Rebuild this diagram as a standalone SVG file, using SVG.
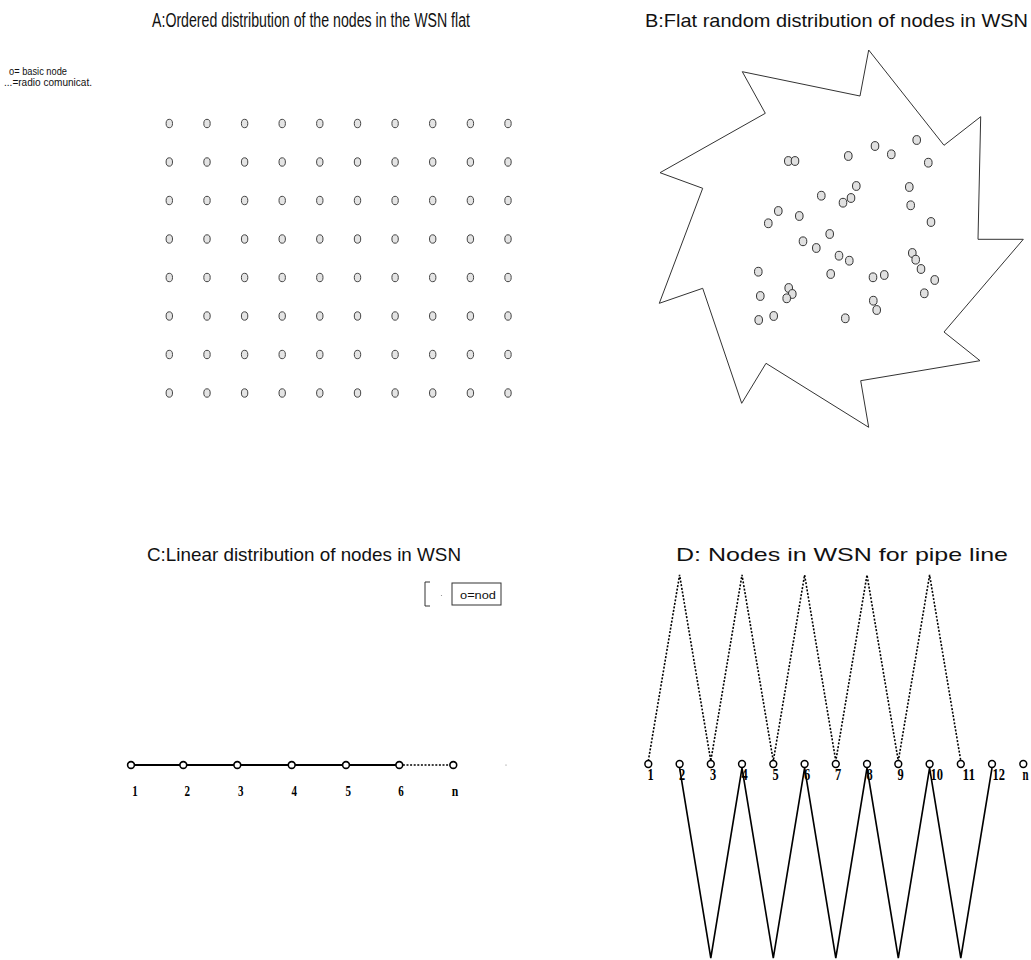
<svg xmlns="http://www.w3.org/2000/svg" xmlns:xlink="http://www.w3.org/1999/xlink" width="1031" height="960" viewBox="0 0 1031 960">
<style>
.title{font-family:"Liberation Sans",Arial,sans-serif;fill:#111;}
.small{font-family:"Liberation Sans",Arial,sans-serif;fill:#111;font-size:10px;}
.num{font-family:"Liberation Serif","Times New Roman",serif;fill:#000;font-weight:bold;}
.gnode{fill:#e4e4e4;stroke:#444;stroke-width:1;}
.rnode{fill:#e0e0e0;stroke:#333;stroke-width:1;}
.cnode{fill:#fff;stroke:#000;stroke-width:1.6;}
.dnode{fill:#fff;stroke:#000;stroke-width:1.5;}
.border{fill:none;stroke:#333;stroke-width:1;}
.solid{fill:none;stroke:#000;stroke-width:2;}
.solidD{fill:none;stroke:#000;stroke-width:1.6;}
.dotted{fill:none;stroke:#000;stroke-width:1.6;stroke-dasharray:2 1.6;}
</style>
<defs>
<ellipse id="gn" cx="0" cy="0" rx="3.2" ry="4.2" class="gnode"/>
<ellipse id="rn" cx="0" cy="0" rx="3.8" ry="4.4" class="rnode"/>
<circle id="cn" cx="0" cy="0" r="3.4" class="cnode"/>
<circle id="dn" cx="0" cy="0" r="3.4" class="dnode"/>
</defs>
<rect width="1031" height="960" fill="#fff"/>

<!-- Titles and legends -->
<text class="title" x="152" y="27" font-size="20" textLength="318" lengthAdjust="spacingAndGlyphs">A:Ordered distribution of the nodes in the WSN flat</text>
<text class="title" x="645" y="27" font-size="19" textLength="383" lengthAdjust="spacingAndGlyphs">B:Flat random distribution of nodes in WSN</text>
<text class="title" x="147" y="561" font-size="19" textLength="314" lengthAdjust="spacingAndGlyphs">C:Linear distribution of nodes in WSN</text>
<text class="title" x="676" y="561" font-size="19" textLength="332" lengthAdjust="spacingAndGlyphs">D: Nodes in WSN for pipe line</text>

<g id="legendA">
<text class="small" x="9" y="75" textLength="58" lengthAdjust="spacingAndGlyphs">o= basic node</text>
<text class="small" x="4" y="86" textLength="88" lengthAdjust="spacingAndGlyphs">...=radio comunicat.</text>
</g>

<g id="legendC">
<path d="M430,582 H425 V606 H430" fill="none" stroke="#333" stroke-width="1"/>
<circle cx="441.5" cy="595.5" r="0.6" fill="#888"/>
<rect x="452" y="583" width="49" height="22" fill="none" stroke="#333" stroke-width="1"/>
<text class="small" x="460" y="599" font-size="11" textLength="36" lengthAdjust="spacingAndGlyphs">o=nod</text>
</g>

<!-- Panel A grid -->
<g id="panelA">
<g id="A-r1c1"><use xlink:href="#gn" x="169.3" y="123.5"/></g>
<g id="A-r1c2"><use xlink:href="#gn" x="207" y="123.5"/></g>
<g id="A-r1c3"><use xlink:href="#gn" x="244.6" y="123.5"/></g>
<g id="A-r1c4"><use xlink:href="#gn" x="282.2" y="123.5"/></g>
<g id="A-r1c5"><use xlink:href="#gn" x="319.8" y="123.5"/></g>
<g id="A-r1c6"><use xlink:href="#gn" x="357.5" y="123.5"/></g>
<g id="A-r1c7"><use xlink:href="#gn" x="395.1" y="123.5"/></g>
<g id="A-r1c8"><use xlink:href="#gn" x="432.7" y="123.5"/></g>
<g id="A-r1c9"><use xlink:href="#gn" x="470.4" y="123.5"/></g>
<g id="A-r1c10"><use xlink:href="#gn" x="508" y="123.5"/></g>
<g id="A-r2c1"><use xlink:href="#gn" x="169.3" y="162"/></g>
<g id="A-r2c2"><use xlink:href="#gn" x="207" y="162"/></g>
<g id="A-r2c3"><use xlink:href="#gn" x="244.6" y="162"/></g>
<g id="A-r2c4"><use xlink:href="#gn" x="282.2" y="162"/></g>
<g id="A-r2c5"><use xlink:href="#gn" x="319.8" y="162"/></g>
<g id="A-r2c6"><use xlink:href="#gn" x="357.5" y="162"/></g>
<g id="A-r2c7"><use xlink:href="#gn" x="395.1" y="162"/></g>
<g id="A-r2c8"><use xlink:href="#gn" x="432.7" y="162"/></g>
<g id="A-r2c9"><use xlink:href="#gn" x="470.4" y="162"/></g>
<g id="A-r2c10"><use xlink:href="#gn" x="508" y="162"/></g>
<g id="A-r3c1"><use xlink:href="#gn" x="169.3" y="200.5"/></g>
<g id="A-r3c2"><use xlink:href="#gn" x="207" y="200.5"/></g>
<g id="A-r3c3"><use xlink:href="#gn" x="244.6" y="200.5"/></g>
<g id="A-r3c4"><use xlink:href="#gn" x="282.2" y="200.5"/></g>
<g id="A-r3c5"><use xlink:href="#gn" x="319.8" y="200.5"/></g>
<g id="A-r3c6"><use xlink:href="#gn" x="357.5" y="200.5"/></g>
<g id="A-r3c7"><use xlink:href="#gn" x="395.1" y="200.5"/></g>
<g id="A-r3c8"><use xlink:href="#gn" x="432.7" y="200.5"/></g>
<g id="A-r3c9"><use xlink:href="#gn" x="470.4" y="200.5"/></g>
<g id="A-r3c10"><use xlink:href="#gn" x="508" y="200.5"/></g>
<g id="A-r4c1"><use xlink:href="#gn" x="169.3" y="239"/></g>
<g id="A-r4c2"><use xlink:href="#gn" x="207" y="239"/></g>
<g id="A-r4c3"><use xlink:href="#gn" x="244.6" y="239"/></g>
<g id="A-r4c4"><use xlink:href="#gn" x="282.2" y="239"/></g>
<g id="A-r4c5"><use xlink:href="#gn" x="319.8" y="239"/></g>
<g id="A-r4c6"><use xlink:href="#gn" x="357.5" y="239"/></g>
<g id="A-r4c7"><use xlink:href="#gn" x="395.1" y="239"/></g>
<g id="A-r4c8"><use xlink:href="#gn" x="432.7" y="239"/></g>
<g id="A-r4c9"><use xlink:href="#gn" x="470.4" y="239"/></g>
<g id="A-r4c10"><use xlink:href="#gn" x="508" y="239"/></g>
<g id="A-r5c1"><use xlink:href="#gn" x="169.3" y="277.5"/></g>
<g id="A-r5c2"><use xlink:href="#gn" x="207" y="277.5"/></g>
<g id="A-r5c3"><use xlink:href="#gn" x="244.6" y="277.5"/></g>
<g id="A-r5c4"><use xlink:href="#gn" x="282.2" y="277.5"/></g>
<g id="A-r5c5"><use xlink:href="#gn" x="319.8" y="277.5"/></g>
<g id="A-r5c6"><use xlink:href="#gn" x="357.5" y="277.5"/></g>
<g id="A-r5c7"><use xlink:href="#gn" x="395.1" y="277.5"/></g>
<g id="A-r5c8"><use xlink:href="#gn" x="432.7" y="277.5"/></g>
<g id="A-r5c9"><use xlink:href="#gn" x="470.4" y="277.5"/></g>
<g id="A-r5c10"><use xlink:href="#gn" x="508" y="277.5"/></g>
<g id="A-r6c1"><use xlink:href="#gn" x="169.3" y="316"/></g>
<g id="A-r6c2"><use xlink:href="#gn" x="207" y="316"/></g>
<g id="A-r6c3"><use xlink:href="#gn" x="244.6" y="316"/></g>
<g id="A-r6c4"><use xlink:href="#gn" x="282.2" y="316"/></g>
<g id="A-r6c5"><use xlink:href="#gn" x="319.8" y="316"/></g>
<g id="A-r6c6"><use xlink:href="#gn" x="357.5" y="316"/></g>
<g id="A-r6c7"><use xlink:href="#gn" x="395.1" y="316"/></g>
<g id="A-r6c8"><use xlink:href="#gn" x="432.7" y="316"/></g>
<g id="A-r6c9"><use xlink:href="#gn" x="470.4" y="316"/></g>
<g id="A-r6c10"><use xlink:href="#gn" x="508" y="316"/></g>
<g id="A-r7c1"><use xlink:href="#gn" x="169.3" y="354.5"/></g>
<g id="A-r7c2"><use xlink:href="#gn" x="207" y="354.5"/></g>
<g id="A-r7c3"><use xlink:href="#gn" x="244.6" y="354.5"/></g>
<g id="A-r7c4"><use xlink:href="#gn" x="282.2" y="354.5"/></g>
<g id="A-r7c5"><use xlink:href="#gn" x="319.8" y="354.5"/></g>
<g id="A-r7c6"><use xlink:href="#gn" x="357.5" y="354.5"/></g>
<g id="A-r7c7"><use xlink:href="#gn" x="395.1" y="354.5"/></g>
<g id="A-r7c8"><use xlink:href="#gn" x="432.7" y="354.5"/></g>
<g id="A-r7c9"><use xlink:href="#gn" x="470.4" y="354.5"/></g>
<g id="A-r7c10"><use xlink:href="#gn" x="508" y="354.5"/></g>
<g id="A-r8c1"><use xlink:href="#gn" x="169.3" y="393"/></g>
<g id="A-r8c2"><use xlink:href="#gn" x="207" y="393"/></g>
<g id="A-r8c3"><use xlink:href="#gn" x="244.6" y="393"/></g>
<g id="A-r8c4"><use xlink:href="#gn" x="282.2" y="393"/></g>
<g id="A-r8c5"><use xlink:href="#gn" x="319.8" y="393"/></g>
<g id="A-r8c6"><use xlink:href="#gn" x="357.5" y="393"/></g>
<g id="A-r8c7"><use xlink:href="#gn" x="395.1" y="393"/></g>
<g id="A-r8c8"><use xlink:href="#gn" x="432.7" y="393"/></g>
<g id="A-r8c9"><use xlink:href="#gn" x="470.4" y="393"/></g>
<g id="A-r8c10"><use xlink:href="#gn" x="508" y="393"/></g>
</g>

<!-- Panel B -->
<g id="panelB-border">
<polygon class="border" points="742.3,71.7 860,96 868.7,50 944,145.3 980.7,116.7 978,239.3 1023.3,239.3 944,332 980,360.7 860.7,380.7 868.7,427.3 766,363.3 741.7,403.3 702.7,288.3 659.3,303.3 702.7,188.3 660,172.7 765.3,113.3"/>
</g>
<g id="panelB">
<g id="B-n1"><use xlink:href="#rn" x="788.3" y="161"/></g>
<g id="B-n2"><use xlink:href="#rn" x="795" y="161"/></g>
<g id="B-n3"><use xlink:href="#rn" x="848.3" y="156"/></g>
<g id="B-n4"><use xlink:href="#rn" x="875" y="146"/></g>
<g id="B-n5"><use xlink:href="#rn" x="891.3" y="154.3"/></g>
<g id="B-n6"><use xlink:href="#rn" x="916.7" y="140"/></g>
<g id="B-n7"><use xlink:href="#rn" x="928.3" y="162.7"/></g>
<g id="B-n8"><use xlink:href="#rn" x="856.3" y="186"/></g>
<g id="B-n9"><use xlink:href="#rn" x="851" y="198"/></g>
<g id="B-n10"><use xlink:href="#rn" x="843" y="202.7"/></g>
<g id="B-n11"><use xlink:href="#rn" x="821.3" y="195.7"/></g>
<g id="B-n12"><use xlink:href="#rn" x="909.3" y="187"/></g>
<g id="B-n13"><use xlink:href="#rn" x="910.7" y="205.3"/></g>
<g id="B-n14"><use xlink:href="#rn" x="931" y="222"/></g>
<g id="B-n15"><use xlink:href="#rn" x="778.3" y="211"/></g>
<g id="B-n16"><use xlink:href="#rn" x="768.3" y="223.3"/></g>
<g id="B-n17"><use xlink:href="#rn" x="799.3" y="216"/></g>
<g id="B-n18"><use xlink:href="#rn" x="829.7" y="234"/></g>
<g id="B-n19"><use xlink:href="#rn" x="803" y="241.3"/></g>
<g id="B-n20"><use xlink:href="#rn" x="816.3" y="248"/></g>
<g id="B-n21"><use xlink:href="#rn" x="839" y="255.7"/></g>
<g id="B-n22"><use xlink:href="#rn" x="849.3" y="260.7"/></g>
<g id="B-n23"><use xlink:href="#rn" x="912.3" y="253"/></g>
<g id="B-n24"><use xlink:href="#rn" x="915.7" y="259.7"/></g>
<g id="B-n25"><use xlink:href="#rn" x="921" y="269"/></g>
<g id="B-n26"><use xlink:href="#rn" x="934.7" y="280"/></g>
<g id="B-n27"><use xlink:href="#rn" x="924.3" y="293.3"/></g>
<g id="B-n28"><use xlink:href="#rn" x="830.7" y="274"/></g>
<g id="B-n29"><use xlink:href="#rn" x="873" y="277.3"/></g>
<g id="B-n30"><use xlink:href="#rn" x="884.3" y="275"/></g>
<g id="B-n31"><use xlink:href="#rn" x="873.3" y="300.7"/></g>
<g id="B-n32"><use xlink:href="#rn" x="876.7" y="310"/></g>
<g id="B-n33"><use xlink:href="#rn" x="845.3" y="318.3"/></g>
<g id="B-n34"><use xlink:href="#rn" x="758.3" y="271.7"/></g>
<g id="B-n35"><use xlink:href="#rn" x="760.3" y="296"/></g>
<g id="B-n36"><use xlink:href="#rn" x="788.7" y="288"/></g>
<g id="B-n37"><use xlink:href="#rn" x="792.3" y="294"/></g>
<g id="B-n38"><use xlink:href="#rn" x="786.7" y="298.3"/></g>
<g id="B-n39"><use xlink:href="#rn" x="758.7" y="320"/></g>
<g id="B-n40"><use xlink:href="#rn" x="773.7" y="316"/></g>
</g>

<!-- Connectors -->
<g id="connectors">
<path class="solid" d="M131,765 H399.3"/>
<path class="dotted" d="M399.3,765 H453.3"/>
<polyline class="dotted" points="648.3,761 679.6,575 710.8,761 742,575 773.3,761 804.6,575 835.8,761 867,575 898.3,761 929.6,575 960.8,761"/>
<polyline class="solidD" points="679.6,768 710.8,958 742,768 773.3,958 804.6,768 835.8,958 867,768 898.3,958 929.6,768 960.8,958 992,768"/>
</g>

<!-- Panel C nodes -->
<g id="C-n1"><use xlink:href="#cn" x="131" y="765"/><text class="num" x="135" y="796" font-size="15" text-anchor="middle" textLength="5.5" lengthAdjust="spacingAndGlyphs">1</text></g>
<g id="C-n2"><use xlink:href="#cn" x="183.3" y="765"/><text class="num" x="187.3" y="796" font-size="15" text-anchor="middle" textLength="5.5" lengthAdjust="spacingAndGlyphs">2</text></g>
<g id="C-n3"><use xlink:href="#cn" x="237.3" y="765"/><text class="num" x="240.7" y="796" font-size="15" text-anchor="middle" textLength="5.5" lengthAdjust="spacingAndGlyphs">3</text></g>
<g id="C-n4"><use xlink:href="#cn" x="291.7" y="765"/><text class="num" x="294.3" y="796" font-size="15" text-anchor="middle" textLength="5.5" lengthAdjust="spacingAndGlyphs">4</text></g>
<g id="C-n5"><use xlink:href="#cn" x="346" y="765"/><text class="num" x="348.3" y="796" font-size="15" text-anchor="middle" textLength="5.5" lengthAdjust="spacingAndGlyphs">5</text></g>
<g id="C-n6"><use xlink:href="#cn" x="399.3" y="765"/><text class="num" x="401" y="796" font-size="15" text-anchor="middle" textLength="5.5" lengthAdjust="spacingAndGlyphs">6</text></g>
<g id="C-nn"><use xlink:href="#cn" x="453.3" y="765"/><text class="num" x="455" y="796" font-size="15" text-anchor="middle" textLength="6.5" lengthAdjust="spacingAndGlyphs">n</text></g>
<circle cx="506" cy="765" r="0.6" fill="#777"/>

<!-- Panel D nodes -->
<g id="D-n1"><use xlink:href="#dn" x="648.3" y="764"/><text class="num" x="647.5" y="780" font-size="17" textLength="6.2" lengthAdjust="spacingAndGlyphs">1</text></g>
<g id="D-n2"><use xlink:href="#dn" x="679.6" y="764"/><text class="num" x="679" y="780" font-size="17" textLength="6.2" lengthAdjust="spacingAndGlyphs">2</text></g>
<g id="D-n3"><use xlink:href="#dn" x="710.8" y="764"/><text class="num" x="710" y="780" font-size="17" textLength="6.2" lengthAdjust="spacingAndGlyphs">3</text></g>
<g id="D-n4"><use xlink:href="#dn" x="742" y="764"/><text class="num" x="741.5" y="780" font-size="17" textLength="6.2" lengthAdjust="spacingAndGlyphs">4</text></g>
<g id="D-n5"><use xlink:href="#dn" x="773.3" y="764"/><text class="num" x="772.5" y="780" font-size="17" textLength="6.2" lengthAdjust="spacingAndGlyphs">5</text></g>
<g id="D-n6"><use xlink:href="#dn" x="804.6" y="764"/><text class="num" x="804" y="780" font-size="17" textLength="6.2" lengthAdjust="spacingAndGlyphs">6</text></g>
<g id="D-n7"><use xlink:href="#dn" x="835.8" y="764"/><text class="num" x="835" y="780" font-size="17" textLength="6.2" lengthAdjust="spacingAndGlyphs">7</text></g>
<g id="D-n8"><use xlink:href="#dn" x="867" y="764"/><text class="num" x="866.5" y="780" font-size="17" textLength="6.2" lengthAdjust="spacingAndGlyphs">8</text></g>
<g id="D-n9"><use xlink:href="#dn" x="898.3" y="764"/><text class="num" x="897.5" y="780" font-size="17" textLength="6.2" lengthAdjust="spacingAndGlyphs">9</text></g>
<g id="D-n10"><use xlink:href="#dn" x="929.6" y="764"/><text class="num" x="930.5" y="780" font-size="17" textLength="12.5" lengthAdjust="spacingAndGlyphs">10</text></g>
<g id="D-n11"><use xlink:href="#dn" x="960.8" y="764"/><text class="num" x="962.5" y="780" font-size="17" textLength="12.5" lengthAdjust="spacingAndGlyphs">11</text></g>
<g id="D-n12"><use xlink:href="#dn" x="992" y="764"/><text class="num" x="992.5" y="780" font-size="17" textLength="12.5" lengthAdjust="spacingAndGlyphs">12</text></g>
<g id="D-nn"><use xlink:href="#dn" x="1023.3" y="764"/><text class="num" x="1022.5" y="780" font-size="17" textLength="6" lengthAdjust="spacingAndGlyphs">n</text></g>
</svg>
